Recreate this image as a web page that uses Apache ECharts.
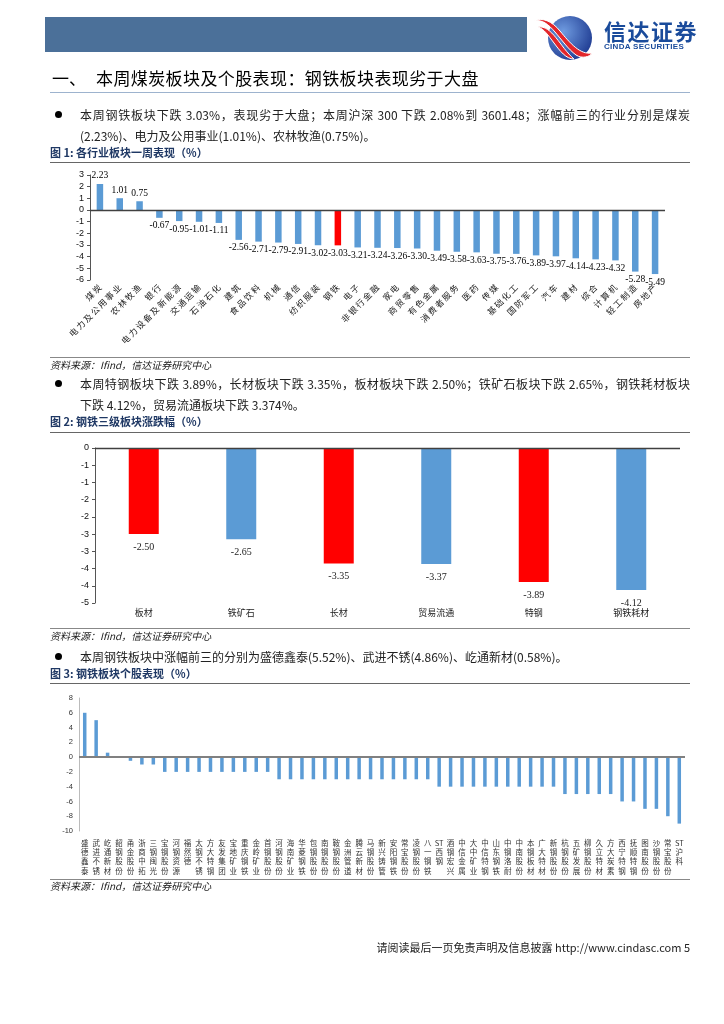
<!DOCTYPE html>
<html><head><meta charset="utf-8">
<script src="https://cdn.jsdelivr.net/npm/echarts@6/dist/echarts.min.js"></script>
<style>
html,body{margin:0;padding:0;}
body{width:724px;height:1024px;background:#fff;position:relative;overflow:hidden;font-family:"Noto Sans CJK SC","Noto Sans",sans-serif;color:#111;}
.t{position:absolute;white-space:nowrap;line-height:1;}
.j{text-align:justify;text-align-last:justify;white-space:normal;}
.body{font-size:12px;color:#222;}
.fig{font-size:11px;font-weight:bold;color:#1F3864;}
.src{font-size:10px;font-style:italic;color:#222;}
.hl{position:absolute;height:0;}
.dot{position:absolute;width:7px;height:7px;border-radius:50%;background:#000;}
#chart{position:absolute;left:0;top:0;width:724px;height:1024px;}
</style></head>
<body>
<div id="chart"></div>

<!-- header -->
<div style="position:absolute;left:45px;top:17px;width:482px;height:35px;background:#4B7099;"></div>
<svg style="position:absolute;left:530px;top:13px" width="72" height="48" viewBox="0 0 72 48">
  <defs><radialGradient id="g" cx="0.35" cy="0.35" r="0.8"><stop offset="0" stop-color="#6F9BE0"/><stop offset="1" stop-color="#17328A"/></radialGradient></defs>
  <circle cx="40" cy="25" r="22" fill="url(#g)"/>
  <path d="M4 8 C20 4 30 30 46 42 C52 46 60 44 62 40 C50 42 40 30 30 18 C22 8 12 4 4 8Z" fill="#E3262B" stroke="#fff" stroke-width="1"/>
  <path d="M8 14 C22 12 30 34 44 46 C36 46 30 38 24 30 C18 22 14 16 8 14Z" fill="#E3262B" stroke="#fff" stroke-width="1"/>
</svg>
<div class="t" style="left:604px;top:19px;font-size:22px;font-weight:bold;color:#1A4B9B;letter-spacing:1.5px;">信达证券</div>
<div class="t" style="left:604px;top:43px;font-size:8px;font-weight:bold;color:#1A4B9B;font-family:'Liberation Sans',Arial,sans-serif;letter-spacing:0.3px;">CINDA SECURITIES</div>

<div class="t" style="left:52px;top:69px;font-size:17px;color:#000;">一、</div>
<div class="t" style="left:96px;top:69px;font-size:17px;color:#000;letter-spacing:0.4px;">本周煤炭板块及个股表现：钢铁板块表现劣于大盘</div>
<div class="hl" style="left:50px;top:92px;width:640px;border-top:1.5px solid #9DB3CE;"></div>

<!-- bullet 1 -->
<div class="dot" style="left:55px;top:111px;"></div>
<div class="t body j" style="left:80px;top:109px;width:610px;">本周钢铁板块下跌 3.03%，表现劣于大盘；本周沪深 300 下跌 2.08%到 3601.48；涨幅前三的行业分别是煤炭</div>
<div class="t body" style="left:80px;top:130px;">(2.23%)、电力及公用事业(1.01%)、农林牧渔(0.75%)。</div>
<div class="t fig" style="left:50px;top:147px;">图 1: 各行业板块一周表现（%）</div>
<div class="hl" style="left:50px;top:162px;width:640px;border-top:1.5px solid #666;"></div>
<div class="hl" style="left:50px;top:357px;width:640px;border-top:1.5px solid #888;"></div>
<div class="t src" style="left:50px;top:360px;">资料来源：Ifind，信达证券研究中心</div>

<!-- bullet 2 -->
<div class="dot" style="left:55px;top:380px;"></div>
<div class="t body j" style="left:80px;top:378px;width:610px;">本周特钢板块下跌 3.89%，长材板块下跌 3.35%，板材板块下跌 2.50%；铁矿石板块下跌 2.65%，钢铁耗材板块</div>
<div class="t body" style="left:80px;top:399px;">下跌 4.12%，贸易流通板块下跌 3.374%。</div>
<div class="t fig" style="left:50px;top:416px;">图 2: 钢铁三级板块涨跌幅（%）</div>
<div class="hl" style="left:50px;top:432px;width:640px;border-top:1.5px solid #666;"></div>
<div class="hl" style="left:50px;top:628px;width:640px;border-top:1.5px solid #888;"></div>
<div class="t src" style="left:50px;top:631px;">资料来源：Ifind，信达证券研究中心</div>

<!-- bullet 3 -->
<div class="dot" style="left:55px;top:653px;"></div>
<div class="t body" style="left:80px;top:651px;">本周钢铁板块中涨幅前三的分别为盛德鑫泰(5.52%)、武进不锈(4.86%)、屹通新材(0.58%)。</div>
<div class="t fig" style="left:50px;top:668px;">图 3: 钢铁板块个股表现（%）</div>
<div class="hl" style="left:50px;top:683px;width:640px;border-top:1.5px solid #666;"></div>
<div class="hl" style="left:50px;top:879px;width:640px;border-top:1.5px solid #888;"></div>
<div class="t src" style="left:50px;top:881px;">资料来源：Ifind，信达证券研究中心</div>

<div class="t" style="right:34px;top:942px;font-size:11px;color:#222;">请阅读最后一页免责声明及信息披露 http://www.cindasc.com  5</div>

<script>
// ---- Figure 1: industries ----
const industryNames = ['煤炭','电力及公用事业','农林牧渔','银行','电力设备及新能源','交通运输','石油石化','建筑','食品饮料','机械','通信','纺织服装','钢铁','电子','非银行金融','家电','商贸零售','有色金属','消费者服务','医药','传媒','基础化工','国防军工','汽车','建材','综合','计算机','轻工制造','房地产'];
const industryValues = [2.23,1.01,0.75,-0.67,-0.95,-1.01,-1.11,-2.56,-2.71,-2.79,-2.91,-3.02,-3.03,-3.21,-3.24,-3.26,-3.30,-3.49,-3.58,-3.63,-3.75,-3.76,-3.89,-3.97,-4.14,-4.23,-4.32,-5.28,-5.49];
const industryTicks = [3,2,1,0,-1,-2,-3,-4,-5,-6];
const highlightIndustry = '钢铁';

// ---- Figure 2: steel sub-sectors ----
const subNames = ['板材','铁矿石','长材','贸易流通','特钢','钢铁耗材'];
const subValues = [-2.50,-2.65,-3.35,-3.37,-3.89,-4.12];
const subTicks = [0,-0.5,-1,-1.5,-2,-2.5,-3,-3.5,-4,-4.5];

// ---- Figure 3: individual stocks ----
const stockNames = ['盛德鑫泰','武进不锈','屹通新材','韶钢股份','甬金股份','浙商中拓','三钢闽光','宝钢股份','河钢资源','福然德','太钢不锈','方大特钢','友发集团','宝地矿业','重庆钢铁','金岭矿业','首钢股份','河钢股份','海南矿业','华菱钢铁','包钢股份','南钢股份','鞍钢股份','金洲管道','腾云新材','马钢股份','新兴铸管','安阳钢铁','常宝股份','凌钢股份','八一钢铁','ST西钢','酒钢宏兴','中信金属','大中矿业','中信特钢','山东钢铁','中钢洛耐','中南股份','本钢板材','广大特材','新钢股份','杭钢股份','五矿发展','柳钢股份','久立特材','方大炭素','西宁特钢','抚顺特钢','图南股份','沙钢股份','常宝股份','ST沪科'];
const stockValues = [6,5,0.6,0,-0.5,-1,-1,-2,-2,-2,-2,-2,-2,-2,-2,-2,-2,-3,-3,-3,-3,-3,-3,-3,-3,-3,-3,-3,-3,-3,-3,-4,-4,-4,-4,-4,-4,-4,-4,-4,-4,-4,-5,-5,-5,-5,-5,-6,-6,-7,-7,-8,-9];
const stockTicks = [8,6,4,2,0,-2,-4,-6,-8,-10];

const BLUE = '#5B9BD5', RED = '#FF0000';
const tickCfg = t => ({min: Math.min(...t), max: Math.max(...t), interval: Math.abs(t[0]-t[1])});
const zeroLine = (color, width) => ({symbol:['none','none'], silent:true, label:{show:false}, lineStyle:{color, width, type:'solid'}, data:[{yAxis:0}]});
const excelRound = v => { const r = Math.sign(v)*Math.round(Math.abs(v)); return r === 0 ? '0' : String(r); };
const vertical = s => s.startsWith('ST') ? 'ST\n' + s.slice(2).split('').join('\n') : s.split('').join('\n');
const spaced = s => s.split('').join('\u2009');

const industryData = industryValues.map((v, i) => ({
  value: v,
  itemStyle: {color: industryNames[i] === highlightIndustry ? RED : BLUE},
  label: {position: v < 0 ? 'bottom' : 'top'}
}));

const chart = echarts.init(document.getElementById('chart'), null, {renderer:'canvas'});
chart.setOption({
  animation:false,
  textStyle:{fontFamily:'"Noto Sans CJK SC", sans-serif'},
  grid:[
    {left:90, top:175, width:575, height:105},
    {left:95, top:448, width:585, height:155},
    {left:79, top:698, width:606, height:133}
  ],
  xAxis:[
    {gridIndex:0, type:'category', data:industryNames, axisLine:{show:false}, axisTick:{show:false},
     axisLabel:{interval:0, rotate:45, fontSize:8.5, margin:6, color:'#222', formatter:spaced}},
    {gridIndex:1, type:'category', data:subNames, axisLine:{show:false}, axisTick:{show:false},
     axisLabel:{interval:0, fontSize:9, margin:5, color:'#222'}},
    {gridIndex:2, type:'category', data:stockNames, axisLine:{show:false}, axisTick:{show:false},
     axisLabel:{interval:0, fontSize:7.5, lineHeight:9.4, margin:7, color:'#333', formatter:vertical}}
  ],
  yAxis:[
    Object.assign({gridIndex:0, type:'value', splitLine:{show:false},
     axisLine:{show:true, lineStyle:{color:'#555'}}, axisTick:{show:true, length:3, lineStyle:{color:'#555'}},
     axisLabel:{fontSize:9, color:'#111', margin:6, fontFamily:'"Liberation Sans", Arial'}}, tickCfg(industryTicks)),
    Object.assign({gridIndex:1, type:'value', splitLine:{show:false},
     axisLine:{show:true, lineStyle:{color:'#555'}}, axisTick:{show:true, length:3, lineStyle:{color:'#555'}},
     axisLabel:{fontSize:9, color:'#111', margin:6, formatter:excelRound, fontFamily:'"Liberation Sans", Arial'}}, tickCfg(subTicks)),
    Object.assign({gridIndex:2, type:'value', splitLine:{show:false},
     axisLine:{show:true, lineStyle:{color:'#bbb'}}, axisTick:{show:false},
     axisLabel:{fontSize:7.5, color:'#333', margin:6, fontFamily:'"Liberation Sans", Arial'}}, tickCfg(stockTicks))
  ],
  series:[
    {type:'bar', xAxisIndex:0, yAxisIndex:0, data:industryData, barWidth:6.5,
     label:{show:true, distance:3, fontSize:9.5, color:'#000', fontFamily:'"Liberation Serif", serif',
       formatter: p => p.value.toFixed(2)},
     labelLayout:{hideOverlap:false},
     markLine: zeroLine('#404040', 1.3)},
    {type:'bar', xAxisIndex:1, yAxisIndex:1, data:subValues, barWidth:30,
     itemStyle:{color: p => p.dataIndex % 2 === 0 ? RED : BLUE},
     label:{show:true, position:'bottom', distance:8, fontSize:10, color:'#222', fontFamily:'"Liberation Serif", serif',
       formatter: p => p.value.toFixed(2)},
     markLine: zeroLine('#404040', 1.3)},
    {type:'bar', xAxisIndex:2, yAxisIndex:2, data:stockValues, barWidth:3.5,
     itemStyle:{color:BLUE},
     markLine: zeroLine('#808080', 2)}
  ]
});
</script>
</body></html>
